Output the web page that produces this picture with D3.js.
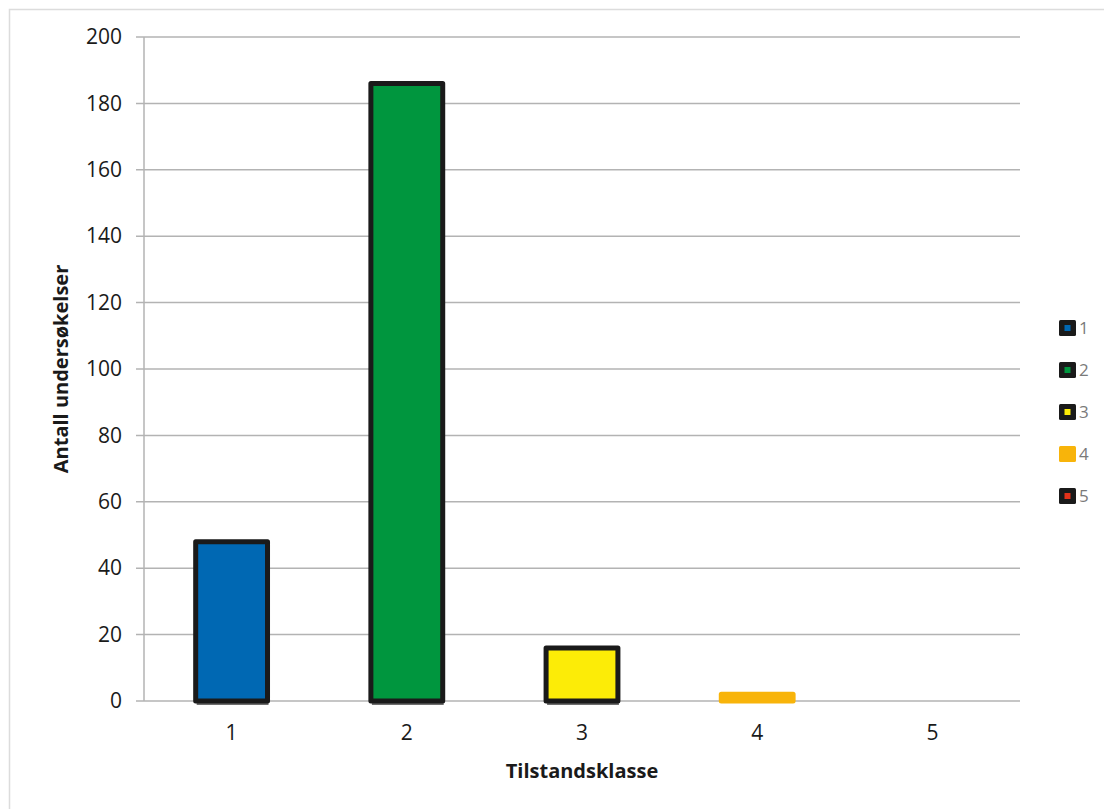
<!DOCTYPE html>
<html>
<head>
<meta charset="utf-8">
<script src="https://cdn.jsdelivr.net/npm/d3@7"></script>
<style>
  html, body { margin: 0; padding: 0; background: #fff; }
  svg { display: block; }
  text { font-family: "Open Sans", Lato, sans-serif; }
</style>
</head>
<body>
<script>
// Number of surveys per condition class
const classes = ["1", "2", "3", "4", "5"];
const counts = [48, 186, 16, 2, 0];
const fills = ["#0068b3", "#00963e", "#fcec07", "#f8b40a", "#e4321a"];
const strokes = ["#1a1a1a", "#1a1a1a", "#1a1a1a", "#f8b40a", "#1a1a1a"];
const yTicks = [0, 20, 40, 60, 80, 100, 120, 140, 160, 180, 200];

const W = 1104, H = 809;
const margin = { left: 144, right: 84, top: 37, bottom: 108 };
const FONT = "'Open Sans', Lato, sans-serif";

const svg = d3.select("body").append("svg")
  .attr("width", W).attr("height", H);

// outer frame
svg.append("rect")
  .attr("x", 9.5).attr("y", 9.5)
  .attr("width", W + 20).attr("height", H + 20)
  .attr("fill", "none").attr("stroke", "#dcdcdc").attr("stroke-width", 1.5);

const x = d3.scaleBand()
  .domain(classes)
  .range([margin.left, W - margin.right])
  .paddingInner(0.59).paddingOuter(0.295);

const y = d3.scaleLinear()
  .domain([0, 200])
  .range([H - margin.bottom, margin.top]);

// horizontal gridlines with small ticks left of the axis
svg.append("g").selectAll("line").data(yTicks).join("line")
  .attr("x1", margin.left - 8).attr("x2", W - margin.right)
  .attr("y1", d => y(d)).attr("y2", d => y(d))
  .attr("stroke", "#b3b3b3").attr("stroke-width", 1.5);

// vertical axis line
svg.append("line")
  .attr("x1", margin.left).attr("x2", margin.left)
  .attr("y1", y(200)).attr("y2", y(0))
  .attr("stroke", "#b3b3b3").attr("stroke-width", 1.5);

// y tick labels
const yAxis = d3.axisLeft(y).tickValues(yTicks).tickSize(0).tickPadding(22);
const gy = svg.append("g").attr("transform", `translate(${margin.left},0)`).call(yAxis);
gy.select(".domain").remove();
gy.selectAll("text")
  .attr("font-size", 21).attr("fill", "#1a1a1a")
  .style("font-family", FONT);

// x tick labels
const xAxis = d3.axisBottom(x).tickSize(0).tickPadding(24);
const gx = svg.append("g").attr("transform", `translate(0,${y(0)})`).call(xAxis);
gx.select(".domain").remove();
gx.selectAll("text")
  .attr("font-size", 21).attr("fill", "#1a1a1a")
  .style("font-family", FONT);

// bars
const data = classes.map((c, i) => ({ c, v: counts[i], fill: fills[i], stroke: strokes[i] }));
const bars = svg.append("g");
// faint shadow line below each outlined bar
bars.selectAll("line.shadow").data(data.filter(d => d.v > 0 && d.stroke === "#1a1a1a")).join("line")
  .attr("class", "shadow")
  .attr("x1", d => x(d.c) + 1).attr("x2", d => x(d.c) + x.bandwidth() + 1)
  .attr("y1", y(0) + 3).attr("y2", y(0) + 3)
  .attr("stroke", "#6e6e6e").attr("stroke-width", 2);
bars.selectAll("rect").data(data.filter(d => d.v > 0)).join("rect")
  .attr("x", d => x(d.c))
  .attr("width", x.bandwidth())
  .attr("y", d => y(d.v))
  .attr("height", d => y(0) - y(d.v))
  .attr("fill", d => d.fill)
  .attr("stroke", d => d.stroke)
  .attr("stroke-width", 5)
  .attr("stroke-linejoin", "round");

// axis titles
svg.append("text")
  .attr("x", (margin.left + W - margin.right) / 2)
  .attr("y", 778)
  .attr("text-anchor", "middle")
  .attr("font-size", 20).attr("font-weight", "bold").attr("fill", "#1a1a1a")
  .text("Tilstandsklasse");

svg.append("text")
  .attr("transform", `translate(68,${(y(0) + y(200)) / 2}) rotate(-90)`)
  .attr("text-anchor", "middle")
  .attr("font-size", 20).attr("font-weight", "bold").attr("fill", "#1a1a1a")
  .text("Antall undersøkelser");

// legend
const legend = svg.append("g").attr("transform", "translate(1059,328)");
const item = legend.selectAll("g").data(data).join("g")
  .attr("transform", (d, i) => `translate(0,${i * 42})`);
item.append("rect")
  .attr("x", 0).attr("y", -8).attr("width", 17).attr("height", 16).attr("rx", 1.5)
  .attr("fill", d => d.stroke === "#1a1a1a" ? "#1a1a1a" : d.fill);
item.append("rect")
  .attr("x", 5.5).attr("y", -3).attr("width", 6).attr("height", 6)
  .attr("fill", d => d.fill);
item.append("text")
  .attr("x", 20).attr("y", 0).attr("dy", "0.36em")
  .attr("font-size", 17).attr("fill", "#7a7a7a")
  .text(d => d.c);
</script>
</body>
</html>
